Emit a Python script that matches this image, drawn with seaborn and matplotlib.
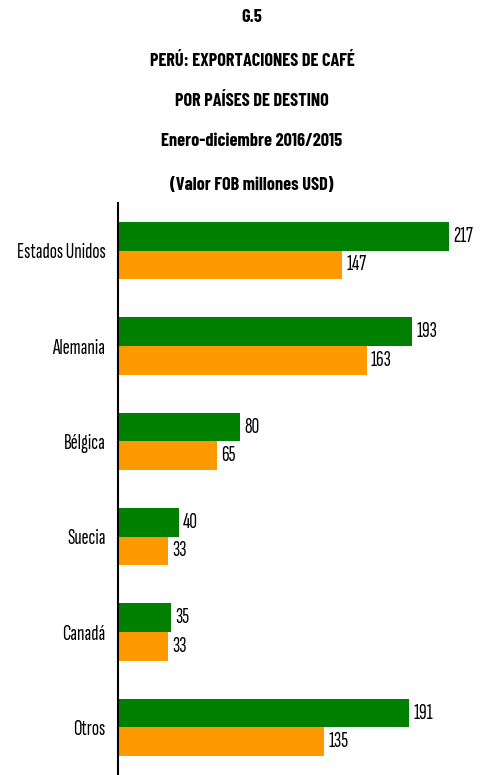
import pandas as pd
import seaborn as sns
import matplotlib.pyplot as plt
from matplotlib import font_manager
from matplotlib.font_manager import FontProperties
from matplotlib.textpath import TextPath
from matplotlib.ticker import FixedLocator

# datos
paises = ['Estados Unidos', 'Alemania', 'Bélgica', 'Suecia', 'Canadá', 'Otros']
valores_2016 = [217, 193, 80, 40, 35, 191]
valores_2015 = [147, 163, 65, 33, 33, 135]
anios = ['2016', '2015']
colores = ['#008000', '#FF9900']

titulo = ['G.5', 'PERÚ: EXPORTACIONES DE CAFÉ', 'POR PAÍSES DE DESTINO',
          'Enero-diciembre 2016/2015', '(Valor FOB millones USD)']

df = pd.DataFrame({
    'pais': paises * 2,
    'valor': valores_2016 + valores_2015,
    'anio': [anios[0]] * len(paises) + [anios[1]] * len(paises),
})

sns.set_style('white')

# la referencia usa Calibri angosta: busco una letra condensada con proporcion parecida
candidatas = ['Sofia Sans Extra Condensed', 'Sofia Sans Condensed', 'Saira Extra Condensed',
              'Barlow Condensed', 'Encode Sans Compressed', 'Ubuntu Condensed',
              'Pathway Gothic One', 'PT Sans Narrow', 'Roboto Condensed', 'Open Sans Condensed',
              'Asap Condensed', 'Fira Sans Extra Condensed', 'Archivo Narrow']
instaladas = {f.name for f in font_manager.fontManager.ttflist}
con_negrita = {f.name for f in font_manager.fontManager.ttflist
               if isinstance(f.weight, int) and f.weight >= 600}
candidatas = [c for c in candidatas if c in instaladas] or ['DejaVu Sans']
candidatas_tit = [c for c in candidatas if c in con_negrita] or ['DejaVu Sans']


def medidas(fam, texto, ancho_px, alto_cap_px, peso='normal'):
    prop = FontProperties(family=fam, weight=peso, size=10)
    w = TextPath((0, 0), texto, size=10, prop=prop).get_extents().width
    h = TextPath((0, 0), 'E', size=10, prop=prop).get_extents().height
    fs_w = 10 * ancho_px * 0.72 / w
    fs_h = 10 * alto_cap_px * 0.72 / h
    return fs_w, fs_h


def error(fam):
    a, b = medidas(fam, 'Estados Unidos', 87, 14)
    return abs(a / b - 1)


def error_tit(fam):
    a, b = medidas(fam, 'PERÚ: EXPORTACIONES DE CAFÉ', 205, 15, 'bold')
    return abs(a / b - 1)


familia = min(candidatas, key=error)
familia_tit = min(candidatas_tit, key=error_tit)
plt.rcParams['font.family'] = [familia, 'DejaVu Sans']
plt.rcParams['text.color'] = 'black'
plt.rcParams['ytick.color'] = 'black'
plt.rcParams['ytick.labelcolor'] = 'black'

fs = min(medidas(familia, 'Estados Unidos', 87, 14))
fs_tit = min(medidas(familia_tit, 'PERÚ: EXPORTACIONES DE CAFÉ', 205, 15, 'bold'))

fig = plt.figure(figsize=(4.82, 7.75), dpi=100)
ax = fig.add_axes([118 / 482, 0.0, 357 / 482, 1 - 203 / 775])

sns.barplot(data=df, y='pais', x='valor', hue='anio', hue_order=anios,
            palette=colores, saturation=1, orient='h', width=0.6, legend=False,
            edgecolor='none', ax=ax)

for cont in ax.containers:
    ax.bar_label(cont, labels=[f'{v:.0f}' for v in cont.datavalues],
                 padding=3, fontsize=fs, color='black')

ax.set_xlim(0, 234)
ax.set_ylim(len(paises) - 0.5, -0.5)
ax.set_xlabel('')
ax.set_ylabel('')
ax.set_xticks([])
ax.tick_params(axis='y', which='major', length=0, labelsize=fs, pad=9)
ax.yaxis.set_minor_locator(FixedLocator([i - 0.5 for i in range(len(paises) + 1)]))
ax.tick_params(axis='y', which='minor', length=4, width=1.5, direction='out', color='black')
for s in ['top', 'right', 'bottom']:
    ax.spines[s].set_visible(False)
ax.spines['left'].set_color('black')
ax.spines['left'].set_linewidth(1.5)

ys = [17, 62, 102, 142, 185]
for t, y in zip(titulo, ys):
    fig.text(252 / 482, 1 - y / 775, t, ha='center', va='center',
             fontsize=fs_tit, fontweight='bold', family=[familia_tit, 'DejaVu Sans'])

fig.savefig('out.png', dpi=100)
